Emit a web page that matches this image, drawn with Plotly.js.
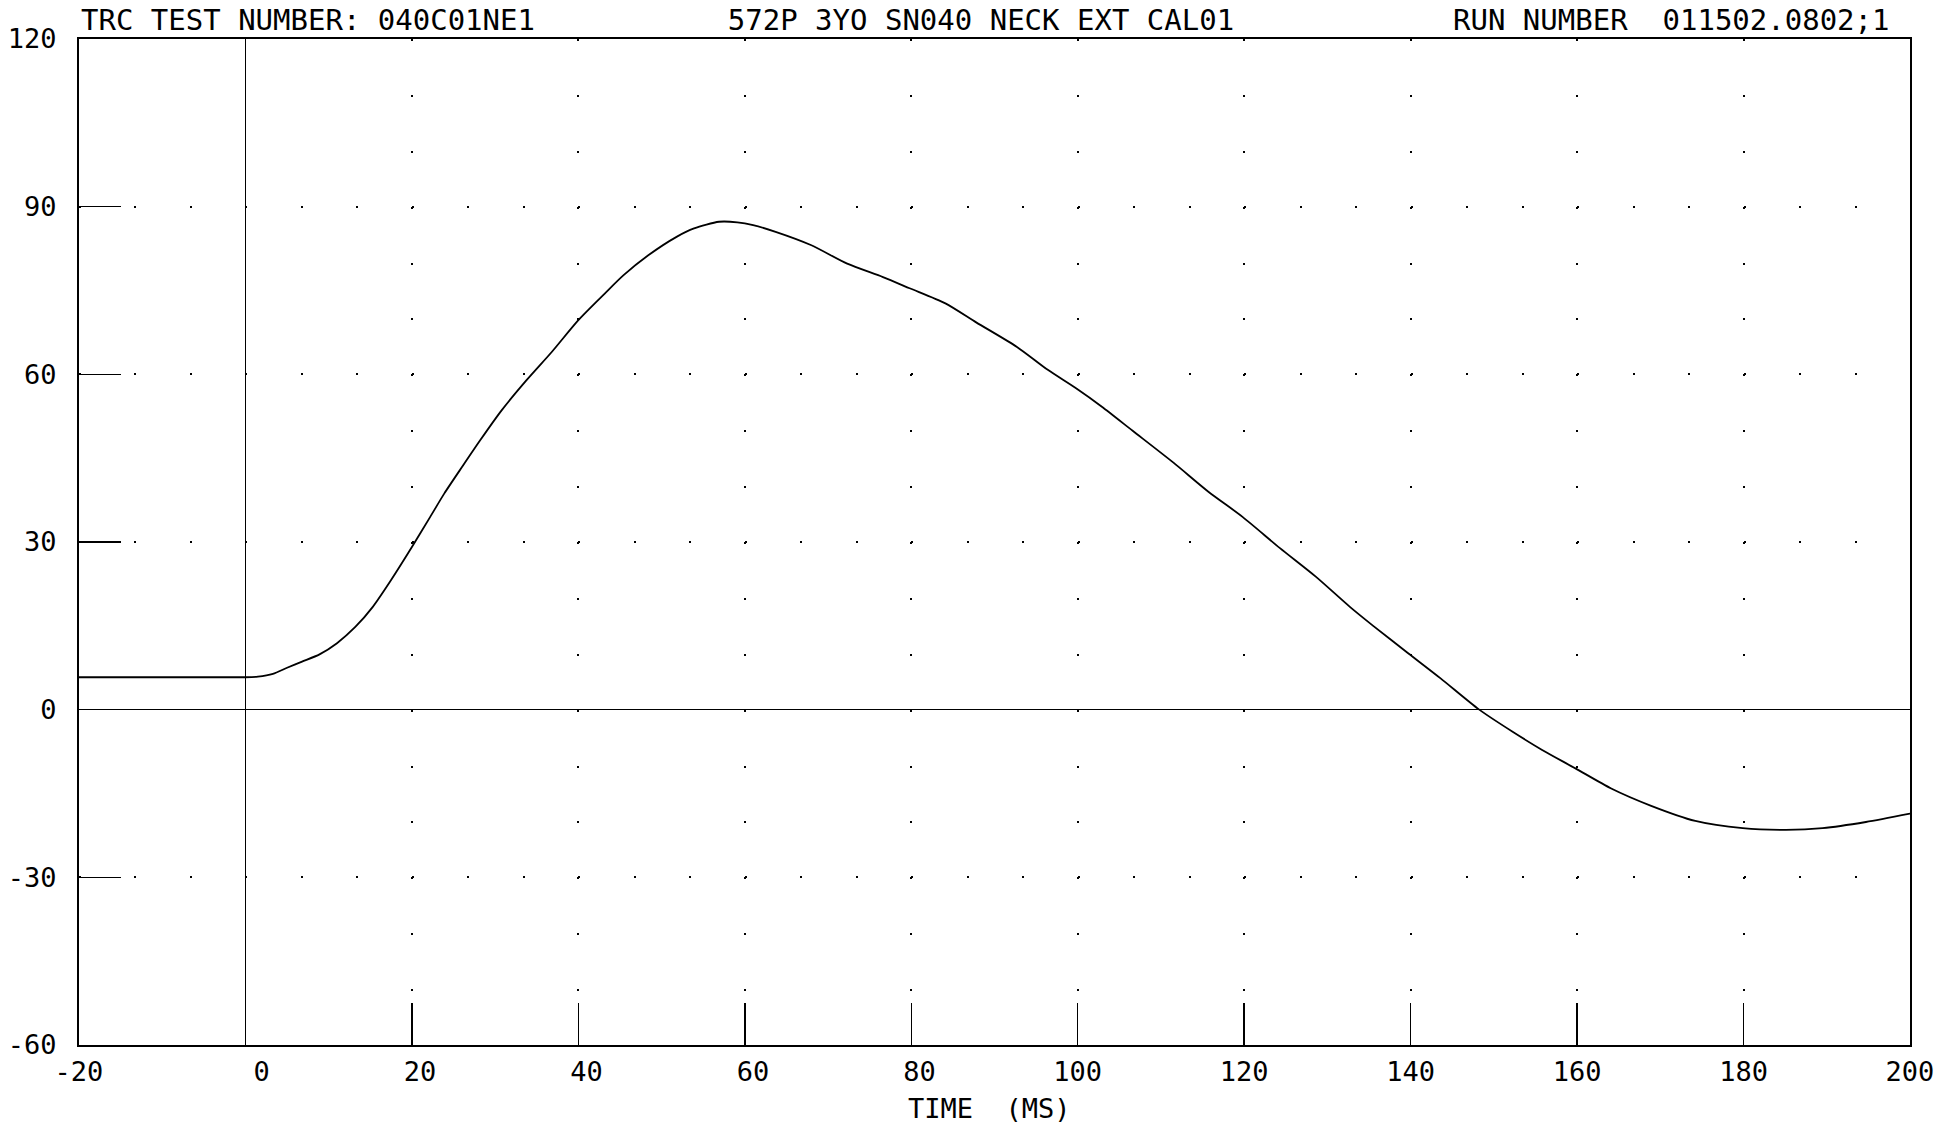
<!DOCTYPE html>
<html>
<head>
<meta charset="utf-8">
<script src="https://cdn.plot.ly/plotly-3.0.1.min.js"></script>
<style>
  html, body { margin: 0; padding: 0; background: #ffffff; }
  #chart { width: 1958px; height: 1125px; }
</style>
</head>
<body>
<div id="chart"></div>
<script>
// ---- data ----
const timeMs = [-20, 0, 1.5, 3.3, 5, 6.8, 8.9, 11, 13.2, 15.3, 17.5, 20, 22.2, 23.9, 26.1, 28.2,
  30.8, 33.8, 36.8, 40, 43.2, 45.4, 48.4, 51.8, 53.9, 56.9, 59.1, 61, 63.7, 68, 72.3, 76.6,
  79.8, 84.1, 87.8, 92.7, 96.4, 99.8, 102.9, 106.6, 111.5, 115.7, 119.8, 124.3, 128.6,
  132.7, 135.5, 139.7, 143.6, 148.2, 152.3, 155.8, 159.8, 164.1, 168.9, 174.2, 179.9,
  185.1, 189.5, 194.7, 200];
const neckValue = [5.8, 5.8, 5.9, 6.4, 7.5, 8.6, 9.9, 11.9, 14.8, 18.4, 23.2, 29.1, 34.5, 38.7, 43.6, 48.2,
  53.6, 59.0, 64.0, 69.7, 74.5, 77.7, 81.3, 84.6, 86.1, 87.3, 87.2, 86.7, 85.5, 83.1, 79.8, 77.4,
  75.4, 72.7, 69.3, 64.9, 60.8, 57.5, 54.2, 49.9, 44.2, 39.0, 34.5, 28.9, 23.8,
  18.4, 15.0, 10.1, 5.6, 0.05, -4.0, -7.2, -10.5, -14.1, -17.2, -19.9, -21.2,
  -21.5, -21.2, -20.1, -18.6];

const xTickVals = [-20, 0, 20, 40, 60, 80, 100, 120, 140, 160, 180, 200];
const xTickText = ["-20", "\u00a0\u00a00", "\u00a020", "\u00a040", "\u00a060", "\u00a080",
  "100", "120", "140", "160", "180", "200"];
const yTickVals = [-60, -30, 0, 30, 60, 90, 120];
const yTickText = ["-60", "-30", "0", "30", "60", "90", "120"];

const headerLeft = "TRC TEST NUMBER: 040C01NE1";
const headerCenter = "572P 3YO SN040 NECK EXT CAL01";
const headerRight = "RUN NUMBER\u00a0\u00a0011502.0802;1";
const xAxisTitle = "TIME\u00a0\u00a0(MS)";

// ---- drawing ----
const FONT = "DejaVu Sans Mono, Liberation Mono, monospace";

const trace = {
  x: timeMs,
  y: neckValue,
  type: "scatter",
  mode: "lines",
  line: { color: "#000000", width: 1.8, shape: "spline", smoothing: 0.7 },
  hoverinfo: "x+y"
};

const layout = {
  width: 1958,
  height: 1125,
  margin: { l: 79, r: 48, t: 39, b: 80, pad: 0 },
  paper_bgcolor: "#ffffff",
  plot_bgcolor: "#ffffff",
  showlegend: false,
  font: { family: FONT, color: "#000000", size: 27 },
  title: {
    text: headerCenter,
    font: { family: FONT, size: 29, color: "#000000" },
    xref: "container", x: 0.501, xanchor: "center",
    yref: "container", y: 1 - 20 / 1125, yanchor: "middle"
  },
  xaxis: {
    range: [-20, 200],
    tickmode: "array",
    tickvals: xTickVals,
    ticktext: xTickText,
    ticks: "inside",
    ticklen: 42,
    tickwidth: 1.5,
    tickcolor: "#000000",
    tickfont: { family: FONT, size: 27, color: "#000000" },
    ticklabelstandoff: 2,
    showline: true,
    mirror: true,
    linecolor: "#000000",
    linewidth: 2,
    showgrid: true,
    gridcolor: "#000000",
    gridwidth: 2,
    griddash: "2px,53.89px",
    zeroline: true,
    zerolinecolor: "#000000",
    zerolinewidth: 1.5,
    fixedrange: true
  },
  yaxis: {
    range: [-60, 120],
    tickmode: "array",
    tickvals: yTickVals,
    ticktext: yTickText,
    ticks: "inside",
    ticklen: 42,
    tickwidth: 1.5,
    tickcolor: "#000000",
    tickfont: { family: FONT, size: 27, color: "#000000" },
    ticklabelstandoff: 15,
    showline: true,
    mirror: true,
    linecolor: "#000000",
    linewidth: 2,
    showgrid: true,
    gridcolor: "#000000",
    gridwidth: 2,
    griddash: "2px,53.49px",
    zeroline: true,
    zerolinecolor: "#000000",
    zerolinewidth: 1.5,
    fixedrange: true
  },
  annotations: [
    {
      text: headerLeft, showarrow: false,
      xref: "paper", x: 0, xanchor: "left",
      yref: "paper", y: 1 + 19 / 1006, yanchor: "middle",
      font: { family: FONT, size: 29, color: "#000000" }
    },
    {
      text: headerRight, showarrow: false,
      xref: "paper", x: (1892 - 79) / 1831, xanchor: "right",
      yref: "paper", y: 1 + 19 / 1006, yanchor: "middle",
      font: { family: FONT, size: 29, color: "#000000" }
    },
    {
      text: xAxisTitle, showarrow: false,
      xref: "paper", x: (989 - 79) / 1831, xanchor: "center",
      yref: "paper", y: -(1108 - 1045) / 1006, yanchor: "middle",
      font: { family: FONT, size: 27, color: "#000000" }
    }
  ]
};

Plotly.newPlot("chart", [trace], layout, { displayModeBar: false, staticPlot: true });
</script>
</body>
</html>
